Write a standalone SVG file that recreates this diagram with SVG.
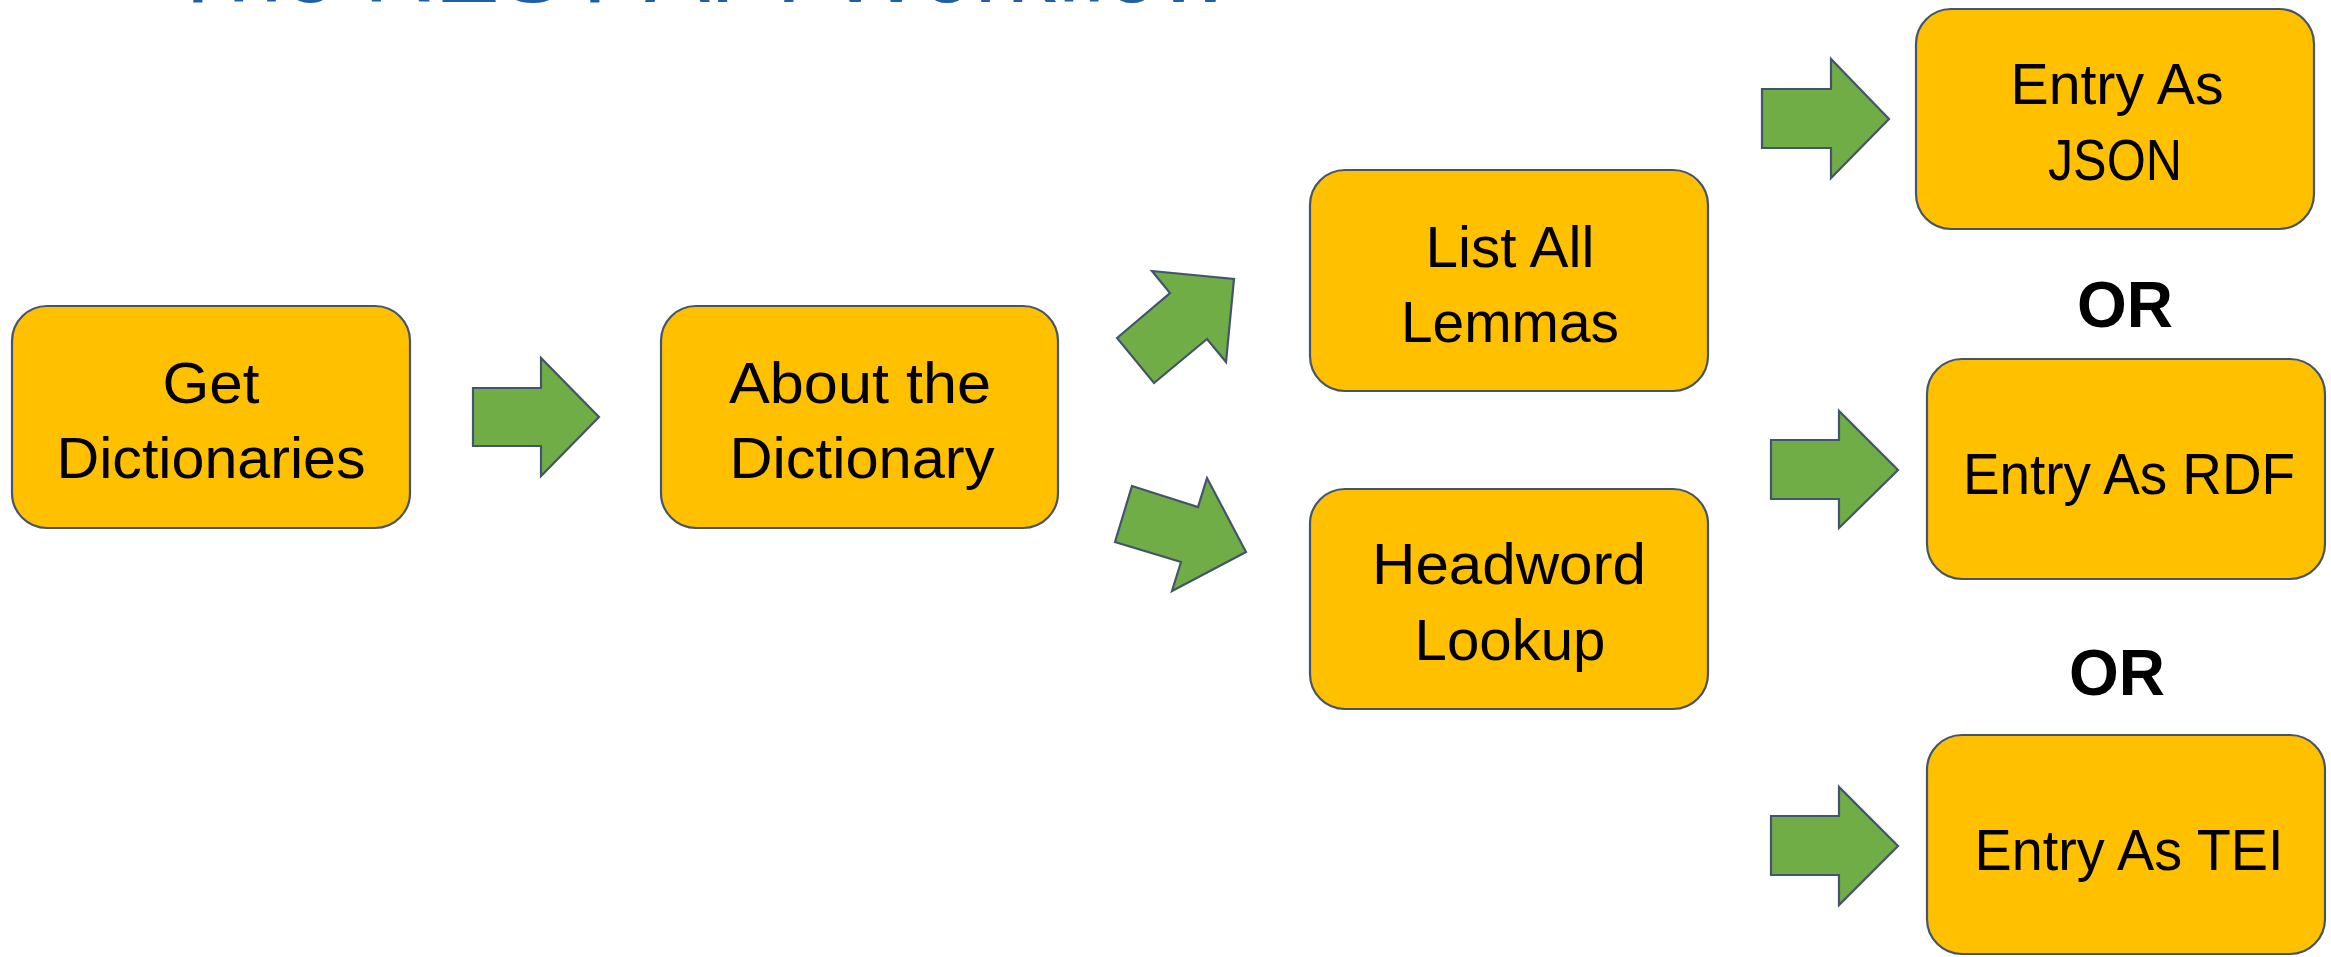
<svg xmlns="http://www.w3.org/2000/svg" width="2331" height="957" viewBox="0 0 2331 957">
<style>
.box{fill:#FFC000;stroke:#44546A;stroke-width:2.2}
.lbl{font-family:"Liberation Sans",Arial,sans-serif;font-size:57px;fill:#000;text-anchor:middle}
.or{font-family:"Liberation Sans",Arial,sans-serif;font-size:64px;font-weight:bold;fill:#000;text-anchor:middle}
.arr{fill:#70AD47;stroke:#44546A;stroke-width:2.2;stroke-linejoin:miter}
.title{font-family:"Liberation Sans",Arial,sans-serif;font-size:100px;fill:#1F5FA6}
</style>
<rect width="2331" height="957" fill="#ffffff"/>
<text class="title" x="168" y="2" textLength="1062" lengthAdjust="spacingAndGlyphs">The REST API Workflow</text>
<g id="connectors">
<polygon class="arr" points="473,388 541,388 541,358 599,417 541,476 541,446 473,446"/>
<polygon class="arr" points="1117,338 1170,293 1152,271 1234,279 1226,362 1207,339 1154,383"/>
<polygon class="arr" points="1132,486 1198,507 1207,478 1246,552 1172,591 1181,562 1115,542"/>
<polygon class="arr" points="1762,89 1831,89 1831,59 1889,119 1831,178 1831,148 1762,148"/>
<polygon class="arr" points="1771,440 1839,440 1839,411 1898,470 1839,528 1839,499 1771,499"/>
<polygon class="arr" points="1771,816 1839,816 1839,787 1898,846 1839,905 1839,875 1771,875"/>
</g>
<g id="node-get-dictionaries">
<rect class="box" x="12" y="306" width="398" height="222" rx="35"/>
<text class="lbl" x="211" y="403" textLength="97" lengthAdjust="spacingAndGlyphs">Get</text>
<text class="lbl" x="211" y="478" textLength="309" lengthAdjust="spacingAndGlyphs">Dictionaries</text>
</g>
<g id="node-about-dictionary">
<rect class="box" x="661" y="306" width="397" height="222" rx="35"/>
<text class="lbl" x="860" y="403" textLength="262" lengthAdjust="spacingAndGlyphs">About the</text>
<text class="lbl" x="862" y="478" textLength="265" lengthAdjust="spacingAndGlyphs">Dictionary</text>
</g>
<g id="node-list-all-lemmas">
<rect class="box" x="1310" y="170" width="398" height="221" rx="35"/>
<text class="lbl" x="1510" y="267" textLength="169" lengthAdjust="spacingAndGlyphs">List All</text>
<text class="lbl" x="1510" y="342" textLength="218" lengthAdjust="spacingAndGlyphs">Lemmas</text>
</g>
<g id="node-headword-lookup">
<rect class="box" x="1310" y="489" width="398" height="220" rx="35"/>
<text class="lbl" x="1509" y="584" textLength="274" lengthAdjust="spacingAndGlyphs">Headword</text>
<text class="lbl" x="1510" y="660" textLength="191" lengthAdjust="spacingAndGlyphs">Lookup</text>
</g>
<g id="node-entry-json">
<rect class="box" x="1916" y="9" width="398" height="220" rx="35"/>
<text class="lbl" x="2117" y="104" textLength="213" lengthAdjust="spacingAndGlyphs">Entry As</text>
<text class="lbl" x="2115" y="180" textLength="134" lengthAdjust="spacingAndGlyphs">JSON</text>
</g>
<g id="or-1">
<text class="or" x="2125" y="327">OR</text>
</g>
<g id="node-entry-rdf">
<rect class="box" x="1927" y="359" width="398" height="220" rx="35"/>
<text class="lbl" x="2129" y="494" textLength="332" lengthAdjust="spacingAndGlyphs">Entry As RDF</text>
</g>
<g id="or-2">
<text class="or" x="2117" y="695">OR</text>
</g>
<g id="node-entry-tei">
<rect class="box" x="1927" y="735" width="398" height="219" rx="35"/>
<text class="lbl" x="2129" y="870" textLength="309" lengthAdjust="spacingAndGlyphs">Entry As TEI</text>
</g>
</svg>
